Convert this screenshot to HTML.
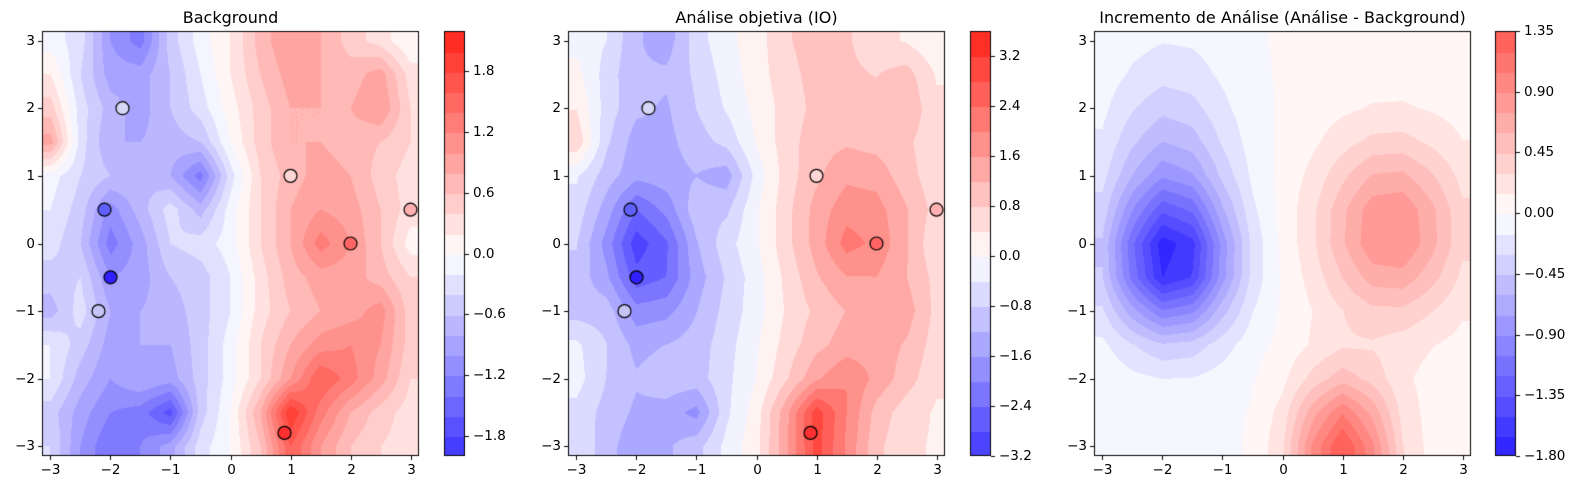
<!DOCTYPE html>
<html><head><meta charset="utf-8">
<style>
body{margin:0;background:#fff;}
#wrap{position:relative;width:1580px;height:486px;overflow:hidden;font-family:"DejaVu Sans","Liberation Sans",sans-serif;color:#000;}
canvas{position:absolute;left:0;top:0;}
.t{position:absolute;font-size:13.5px;white-space:nowrap;line-height:1;}
.ttl{position:absolute;font-size:16px;white-space:nowrap;line-height:1;top:10px;}
</style></head><body>
<div id="wrap"><canvas id="c" width="1580" height="486"></canvas></div>
<script>
const W=document.getElementById('wrap');
const ctx=document.getElementById('c').getContext('2d');
const Bg=[
[-0.1,-0.3,-1.0,-1.3,-0.5,-0.1,0.2,0.7,1.0,0.8,0.5,0.3,0.0],
[0.2,-0.4,-0.9,-0.9,-0.6,-0.2,0.2,0.6,0.9,0.8,0.7,0.9,0.3],
[0.5,-0.3,-0.7,-0.9,-0.6,-0.3,0.1,0.5,0.8,0.8,0.8,1.0,0.4],
[0.9,-0.3,-0.8,-0.8,-0.7,-0.6,0.0,0.5,0.8,0.8,0.7,0.6,0.4],
[-0.1,-0.4,-0.6,-0.6,-0.8,-1.3,-0.3,0.4,0.7,0.9,0.8,0.5,0.3],
[-0.2,-0.5,-1.1,-0.7,-0.3,-0.7,-0.1,0.4,0.8,1.0,0.9,0.6,0.3],
[-0.3,-0.6,-1.3,-0.9,-0.4,-0.3,-0.1,0.4,0.8,1.3,1.0,0.6,0.1],
[-0.5,-0.4,-1.0,-0.9,-0.6,-0.5,-0.2,0.3,0.7,0.9,0.9,0.7,0.4],
[-0.7,-0.3,-0.8,-0.8,-0.7,-0.5,-0.2,0.3,0.6,0.8,0.9,1.1,0.5],
[-0.2,-0.5,-0.9,-0.8,-0.8,-0.5,-0.1,0.4,0.8,1.1,1.2,1.0,0.5],
[-0.2,-0.7,-1.0,-0.8,-0.9,-0.5,-0.1,0.4,1.0,1.6,1.3,0.9,0.4],
[-0.5,-0.9,-1.2,-1.3,-1.7,-0.5,0.0,0.8,2.0,1.3,0.8,0.5,0.3],
[-0.4,-1.0,-1.4,-1.2,-0.9,-0.3,0.0,0.6,1.6,1.0,0.6,0.4,0.3]];
function g(x,y,cx,cy,sx,sy){return Math.exp(-((x-cx)*(x-cx)/(2*sx*sx)+(y-cy)*(y-cy)/(2*sy*sy)));}
function inc(x,y){return -1.5*g(x,y,-1.85,-0.3,0.7,0.7)-0.55*g(x,y,-1.9,1.0,0.7,1.0)+0.9*g(x,y,1.8,0.2,0.8,0.9)+1.35*g(x,y,1.0,-3.1,0.55,0.75)+0.05-0.12*Math.exp(-(x+1.8)*(x+1.8)/(2*1.21));}
const Ig=[],Ag=[];
for(let r=0;r<13;r++){Ig.push([]);Ag.push([]);for(let c=0;c<13;c++){const x=-3+c*0.5,y=3-r*0.5;const v=inc(x,y);Ig[r].push(v);Ag[r].push(v+Bg[r][c]);}}
function bil(G,x,y){let fc=(x+3)/0.5,fr=(3-y)/0.5;fc=Math.max(0,Math.min(12,fc));fr=Math.max(0,Math.min(12,fr));
let c0=Math.min(11,Math.floor(fc)),r0=Math.min(11,Math.floor(fr));let u=fc-c0,v=fr-r0;
return G[r0][c0]*(1-u)*(1-v)+G[r0][c0+1]*u*(1-v)+G[r0+1][c0]*(1-u)*v+G[r0+1][c0+1]*u*v;}
function cmap(t){t=Math.max(0,Math.min(1,t));let r,gg,b;
if(t<0.5){const s=t*2;r=40+(255-40)*s;gg=30+(255-30)*s;b=255;}else{const s=(t-0.5)*2;r=255;gg=255-(255-35)*s;b=255-(255-25)*s;}
return [Math.round(r),Math.round(gg),Math.round(b)];}
const panels=[
{x0:42,x1:419,G:Bg,lo:-2.0,step:0.2,n:21,cb:444,title:"Background",ticks:[-1.8,-1.2,-0.6,0.0,0.6,1.2,1.8],dec:1,pts:true},
{x0:568,x1:945,G:Ag,lo:-3.2,step:0.4,n:17,cb:970,title:"Análise objetiva (IO)",ticks:[-3.2,-2.4,-1.6,-0.8,0.0,0.8,1.6,2.4,3.2],dec:1,pts:true},
{x0:1094,x1:1471,G:Ig,lo:-1.8,step:0.15,n:21,cb:1495,title:"Incremento de Análise (Análise - Background)",ticks:[-1.8,-1.35,-0.9,-0.45,0,0.45,0.9,1.35],dec:2,pts:false}];
const y0=31,y1=456;
function addText(s,x,y,cls,align){const d=document.createElement('div');d.className=cls;d.textContent=s;d.style.top=y+'px';
if(align==='r'){d.style.right=(1580-x)+'px';}else if(align==='c'){d.style.left=x+'px';d.style.transform='translateX(-50%)';}else d.style.left=x+'px';W.appendChild(d);}
function fmt(v,d){let s=Math.abs(v).toFixed(d);return (v<-1e-9?'\u2212':'')+s;}
const pts=[[-1.8,2,'#d6d6f6'],[-2.1,0.5,'#6060ff'],[-2,-0.5,'#3020ff'],[-2.2,-1,'#c4c4f6'],[1,1,'#ffd6d6'],[3,0.5,'#ffb0b0'],[2,0,'#ff6464'],[0.9,-2.8,'#ff3030']];
for(const p of panels){
 const w=p.x1-p.x0,h=y1-y0;const hi=p.lo+p.n*p.step;const M=Math.max(Math.abs(p.lo),Math.abs(hi));
 const cols=[];for(let i=0;i<p.n;i++){const mid=p.lo+(i+0.5)*p.step;cols.push(cmap(0.5+mid/(2*M)));}
 const img=ctx.createImageData(w,h);
 for(let j=0;j<h;j++){const y=Math.PI-(j+0.5)/h*2*Math.PI;for(let i=0;i<w;i++){const x=-Math.PI+(i+0.5)/w*2*Math.PI;
  const v=bil(p.G,x,y);let b=Math.floor((v-p.lo)/p.step);b=Math.max(0,Math.min(p.n-1,b));const c=cols[b];const k=(j*w+i)*4;
  img.data[k]=c[0];img.data[k+1]=c[1];img.data[k+2]=c[2];img.data[k+3]=255;}}
 ctx.putImageData(img,p.x0,y0);
 const X=x=>p.x0+(x+Math.PI)/(2*Math.PI)*w, Y=y=>y0+(Math.PI-y)/(2*Math.PI)*h;
 if(p.pts){for(const q of pts){ctx.beginPath();ctx.arc(X(q[0]),Y(q[1]),6.5,0,2*Math.PI);ctx.fillStyle=q[2];ctx.fill();ctx.lineWidth=1.2;ctx.strokeStyle='#000';ctx.stroke();}}
 ctx.strokeStyle='#000';ctx.lineWidth=1;ctx.strokeRect(p.x0+0.5,y0+0.5,w-1,h-1);
 for(let t=-3;t<=3;t++){const xx=Math.round(X(t))+0.5;ctx.beginPath();ctx.moveTo(xx,y1);ctx.lineTo(xx,y1+4);ctx.stroke();
  addText(fmt(t,0),xx,y1+8,'t','c');
  const yy=Math.round(Y(t))+0.5;ctx.beginPath();ctx.moveTo(p.x0-4,yy);ctx.lineTo(p.x0,yy);ctx.stroke();
  addText(fmt(t,0),p.x0-7,yy-7,'t','r');}
 addText(p.title,(p.x0+p.x1)/2,10,'ttl','c');
 const cw=21;const bh=h/p.n;
 for(let i=0;i<p.n;i++){const c=cols[i];ctx.fillStyle=`rgb(${c[0]},${c[1]},${c[2]})`;const top=y1-(i+1)*bh;ctx.fillRect(p.cb,Math.floor(top),cw,Math.ceil(bh)+1);}
 ctx.fillStyle='#fff';ctx.fillRect(p.cb,y0-3,cw,3);ctx.fillRect(p.cb,y1,cw,3);
 ctx.strokeRect(p.cb+0.5,y0+0.5,cw-1,h-1);
 for(const t of p.ticks){const yy=Math.round(y1-(t-p.lo)/(p.n*p.step)*h)+0.5;ctx.beginPath();ctx.moveTo(p.cb+cw,yy);ctx.lineTo(p.cb+cw+4,yy);ctx.stroke();
  addText(fmt(t,p.dec),p.cb+cw+8,yy-7,'t','');}
}
</script>
</body></html>
